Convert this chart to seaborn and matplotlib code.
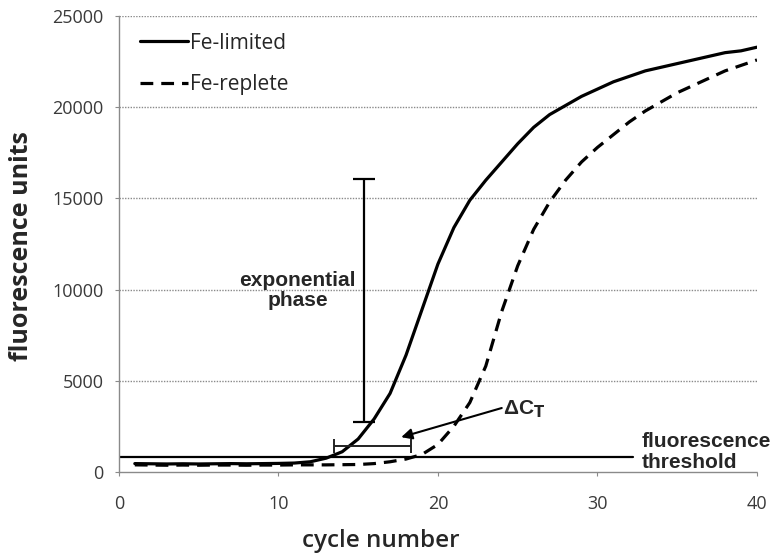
import numpy as np
import pandas as pd
import seaborn as sns
import matplotlib.pyplot as plt

# Amplification curves (fluorescence per PCR cycle)
cycles = list(range(1, 41))
fe_limited = [450, 440, 430, 440, 430, 440, 450, 440, 450, 460, 480, 550,
              750, 1100, 1800, 2900, 4300, 6400, 8900, 11400, 13400, 14900,
              16000, 17000, 18000, 18900, 19600, 20100, 20600, 21000, 21400,
              21700, 22000, 22200, 22400, 22600, 22800, 23000, 23100, 23300]
fe_replete = [380, 370, 360, 370, 360, 370, 370, 360, 370, 370, 380, 380,
              380, 390, 400, 450, 550, 700, 950, 1500, 2500, 3800, 5800,
              8800, 11300, 13300, 14800, 16000, 17000, 17800, 18500, 19200,
              19800, 20300, 20800, 21200, 21600, 22000, 22300, 22600]
series_names = ["Fe-limited", "Fe-replete"]

threshold = 800
threshold_end = 32.2
exp_phase = (15.35, 2750, 16050)      # x, low, high
delta_ct = (13.5, 18.3, 1420)         # x start, x end, y

x_ticks = [0, 10, 20, 30, 40]
y_ticks = [0, 5000, 10000, 15000, 20000, 25000]

df = pd.DataFrame({
    "cycle": cycles * 2,
    "fluorescence": fe_limited + fe_replete,
    "sample": [series_names[0]] * len(cycles) + [series_names[1]] * len(cycles),
})

sns.set_theme(style="white")
plt.rcParams["font.family"] = ["Open Sans", "DejaVu Sans"]

fig = plt.figure(figsize=(7.82, 5.59), dpi=100)
ax = fig.add_axes([0.152, 0.156, 0.816, 0.815])

sns.lineplot(data=df, x="cycle", y="fluorescence", style="sample",
             dashes={series_names[0]: "", series_names[1]: (4, 2.5)},
             color="black", linewidth=2.3, ax=ax, legend=True)

ax.set_xlim(0, 40)
ax.set_ylim(0, 25000)
ax.set_xticks(x_ticks)
ax.set_yticks(y_ticks)
ax.tick_params(axis="both", labelsize=13, colors="#8a8a8a", labelcolor="#3a3a3a",
               length=3, width=0.8, direction="out", bottom=True, left=True, pad=8)
ax.tick_params(axis="x", pad=14)

# dotted horizontal grid and dotted axes
for yv in y_ticks[1:]:
    ax.axhline(yv, color="#8a8a8a", lw=1.0, ls=(0, (1, 1)), zorder=0)
for side in ["top", "right"]:
    ax.spines[side].set_visible(False)
for side in ["left", "bottom"]:
    ax.spines[side].set_color("#8a8a8a")
    ax.spines[side].set_linestyle((0, (1, 1)))
    ax.spines[side].set_linewidth(1.0)

ax.set_xlabel("cycle number", fontsize=17.5, fontweight="semibold")
ax.xaxis.set_label_coords(0.41, -0.125)
ax.set_ylabel("fluorescence units", fontsize=18, fontweight="bold")
ax.yaxis.set_label_coords(-0.133, 0.495)

leg = ax.legend(loc="upper left", frameon=False, fontsize=15, handlelength=2.3,
                handletextpad=0.1, labelspacing=1.0, borderpad=0,
                borderaxespad=0, bbox_to_anchor=(0.033, 0.964))
for h in leg.get_lines():
    h.set_linewidth(2.3)

# fluorescence threshold
ax.plot([0, threshold_end], [threshold, threshold], color="black", lw=1.6)
ax.text(32.8, 1100, "fluorescence\nthreshold", fontsize=15, fontweight="bold",
        family="Liberation Sans", ha="left", va="center", linespacing=1.1)

# exponential phase bracket
ex, lo, hi = exp_phase
ax.errorbar([ex], [(lo + hi) / 2], yerr=[[(hi - lo) / 2]], color="black",
            lw=1.6, capsize=8, capthick=1.6, fmt="none")
ax.text(11.2, 9950, "exponential\nphase", fontsize=15, fontweight="bold",
        family="Liberation Sans", ha="center", va="center", linespacing=1.1)

# delta Ct bracket and arrow
x0, x1, yct = delta_ct
ax.errorbar([(x0 + x1) / 2], [yct], xerr=[[(x1 - x0) / 2]], color="#222222",
            lw=1.4, capsize=5, capthick=1.4, fmt="none")
ax.annotate("", xy=(17.7, 1900), xytext=(24.0, 3500),
            arrowprops=dict(arrowstyle="-|>", color="black", lw=1.5,
                            mutation_scale=16, shrinkA=0, shrinkB=0))
ax.text(24.1, 3450, r"ΔC$_\mathbf{T}$", fontsize=15, fontweight="bold",
        family="Liberation Sans", ha="left", va="center")

fig.savefig("out.png", dpi=100)
